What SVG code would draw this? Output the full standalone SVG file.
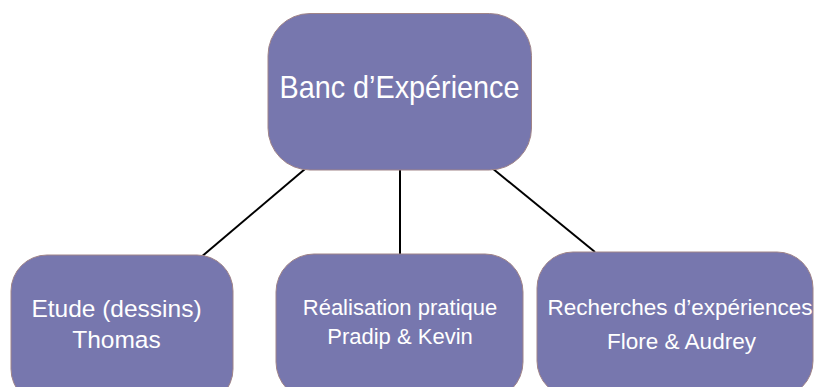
<svg xmlns="http://www.w3.org/2000/svg" width="818" height="387" viewBox="0 0 818 387">
<style>
.box{fill:#7777ae;stroke:#a08488;stroke-width:1}
.t{fill:#ffffff;font-family:"Liberation Sans",Arial,sans-serif;text-anchor:middle}
.c{stroke:#000000;stroke-width:2;fill:none}
</style>
<rect width="818" height="387" fill="#ffffff"/>
<g id="connectors">
<line class="c" x1="305" y1="169" x2="200" y2="258"/>
<line class="c" x1="400" y1="170" x2="400" y2="254"/>
<line class="c" x1="492" y1="168" x2="595" y2="252"/>
</g>
<g id="node-top">
<rect class="box" x="268" y="13.5" width="263.5" height="156.5" rx="42" ry="42"/>
<text class="t" x="399.5" y="98" font-size="32" textLength="240" lengthAdjust="spacingAndGlyphs">Banc d’Expérience</text>
</g>
<g id="node-etude">
<rect class="box" x="11" y="255" width="222" height="150" rx="36" ry="36"/>
<text class="t" x="116.5" y="317" font-size="24.5">Etude (dessins)</text>
<text class="t" x="116.5" y="348" font-size="24.5">Thomas</text>
</g>
<g id="node-realisation">
<rect class="box" x="276" y="254" width="247" height="146" rx="38" ry="38"/>
<text class="t" x="400" y="315" font-size="22">Réalisation pratique</text>
<text class="t" x="400" y="343.5" font-size="22">Pradip &amp; Kevin</text>
</g>
<g id="node-recherches">
<rect class="box" x="537" y="252" width="276" height="145" rx="36" ry="36"/>
<text class="t" x="680" y="314.5" font-size="22.5">Recherches d’expériences</text>
<text class="t" x="681.5" y="348.5" font-size="22.5">Flore &amp; Audrey</text>
</g>
</svg>
